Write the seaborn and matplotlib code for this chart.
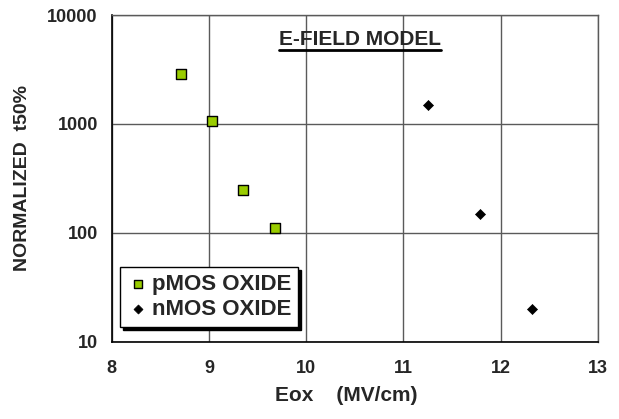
import matplotlib
matplotlib.use("Agg")
import matplotlib.pyplot as plt
import seaborn as sns
import pandas as pd
from matplotlib.lines import Line2D

# Data
pmos_eox = [8.71, 9.03, 9.35, 9.68]
pmos_t50 = [2900, 1070, 245, 110]
nmos_eox = [11.25, 11.79, 12.32]
nmos_t50 = [1500, 150, 20]
series_names = ["pMOS OXIDE", "nMOS OXIDE"]
x_ticks = [8, 9, 10, 11, 12, 13]
y_ticks = [10, 100, 1000, 10000]

pmos_df = pd.DataFrame({"Eox": pmos_eox, "t50": pmos_t50})
nmos_df = pd.DataFrame({"Eox": nmos_eox, "t50": nmos_t50})

sns.set_style("white")
plt.rcParams["font.family"] = ["Liberation Sans", "DejaVu Sans"]
plt.rcParams["font.weight"] = "bold"

fig = plt.figure(figsize=(6.19, 4.19), dpi=100)
ax = fig.add_axes([0.1805, 0.1845, 0.966 - 0.1805, 0.964 - 0.1845])

sns.scatterplot(data=pmos_df, x="Eox", y="t50", marker="s", color="#99CC00",
                s=44, edgecolor="black", linewidth=1.0, ax=ax, zorder=3,
                label=series_names[0])
sns.scatterplot(data=nmos_df, x="Eox", y="t50", marker="D", color="black",
                s=26, edgecolor="black", linewidth=0.5, ax=ax, zorder=3,
                label=series_names[1])

ax.set_yscale("log")
ax.set_xlim(8, 13)
ax.set_ylim(10, 10000)
ax.set_xticks(x_ticks)
ax.set_xticklabels([str(v) for v in x_ticks])
ax.set_yticks(y_ticks)
ax.set_yticklabels([str(v) for v in y_ticks])
ax.yaxis.set_minor_locator(matplotlib.ticker.NullLocator())

ax.grid(True, which="major", color="#5a5a5a", linewidth=1.0)
ax.set_axisbelow(True)
for side in ["left", "bottom"]:
    ax.spines[side].set_color("black")
    ax.spines[side].set_linewidth(1.2)
for side in ["top", "right"]:
    ax.spines[side].set_color("#5a5a5a")
    ax.spines[side].set_linewidth(1.0)

ax.tick_params(axis="both", direction="out", length=5, width=1, color="black",
               labelsize=13, pad=5)
for lab in ax.get_xticklabels() + ax.get_yticklabels():
    lab.set_fontweight("bold")
ax.tick_params(axis="x", pad=8)

ax.set_xlabel("Eox    (MV/cm)", fontsize=15, fontweight="bold", labelpad=6)
ax.xaxis.set_label_coords(0.482, -0.135)
ax.set_ylabel("NORMALIZED  t50%", fontsize=14, fontweight="bold", labelpad=12)

# Title with underline
title = ax.text(0.511, 0.925, "E-FIELD MODEL", transform=ax.transAxes,
                ha="center", va="center", fontsize=15, fontweight="bold")
fig.canvas.draw()
bb = title.get_window_extent()
fw, fh = fig.get_size_inches() * fig.dpi
y_line = (bb.y0 - 1) / fh
fig.add_artist(Line2D([bb.x0 / fw, bb.x1 / fw], [y_line, y_line],
                      transform=fig.transFigure, color="black", linewidth=2))

# Legend
handles, labels = ax.get_legend_handles_labels()
leg = ax.legend(handles, labels, loc="lower left", bbox_to_anchor=(0.017, 0.045),
                borderaxespad=0, frameon=True, fancybox=False,
                shadow={"color": "black", "alpha": 1.0},
                edgecolor="black", framealpha=1, fontsize=16,
                handletextpad=0.15, handlelength=1.0, borderpad=0.3,
                labelspacing=0.2, markerscale=0.9)
leg.get_frame().set_linewidth(1.0)
for t in leg.get_texts():
    t.set_fontweight("bold")

fig.savefig("out.png", dpi=100)
